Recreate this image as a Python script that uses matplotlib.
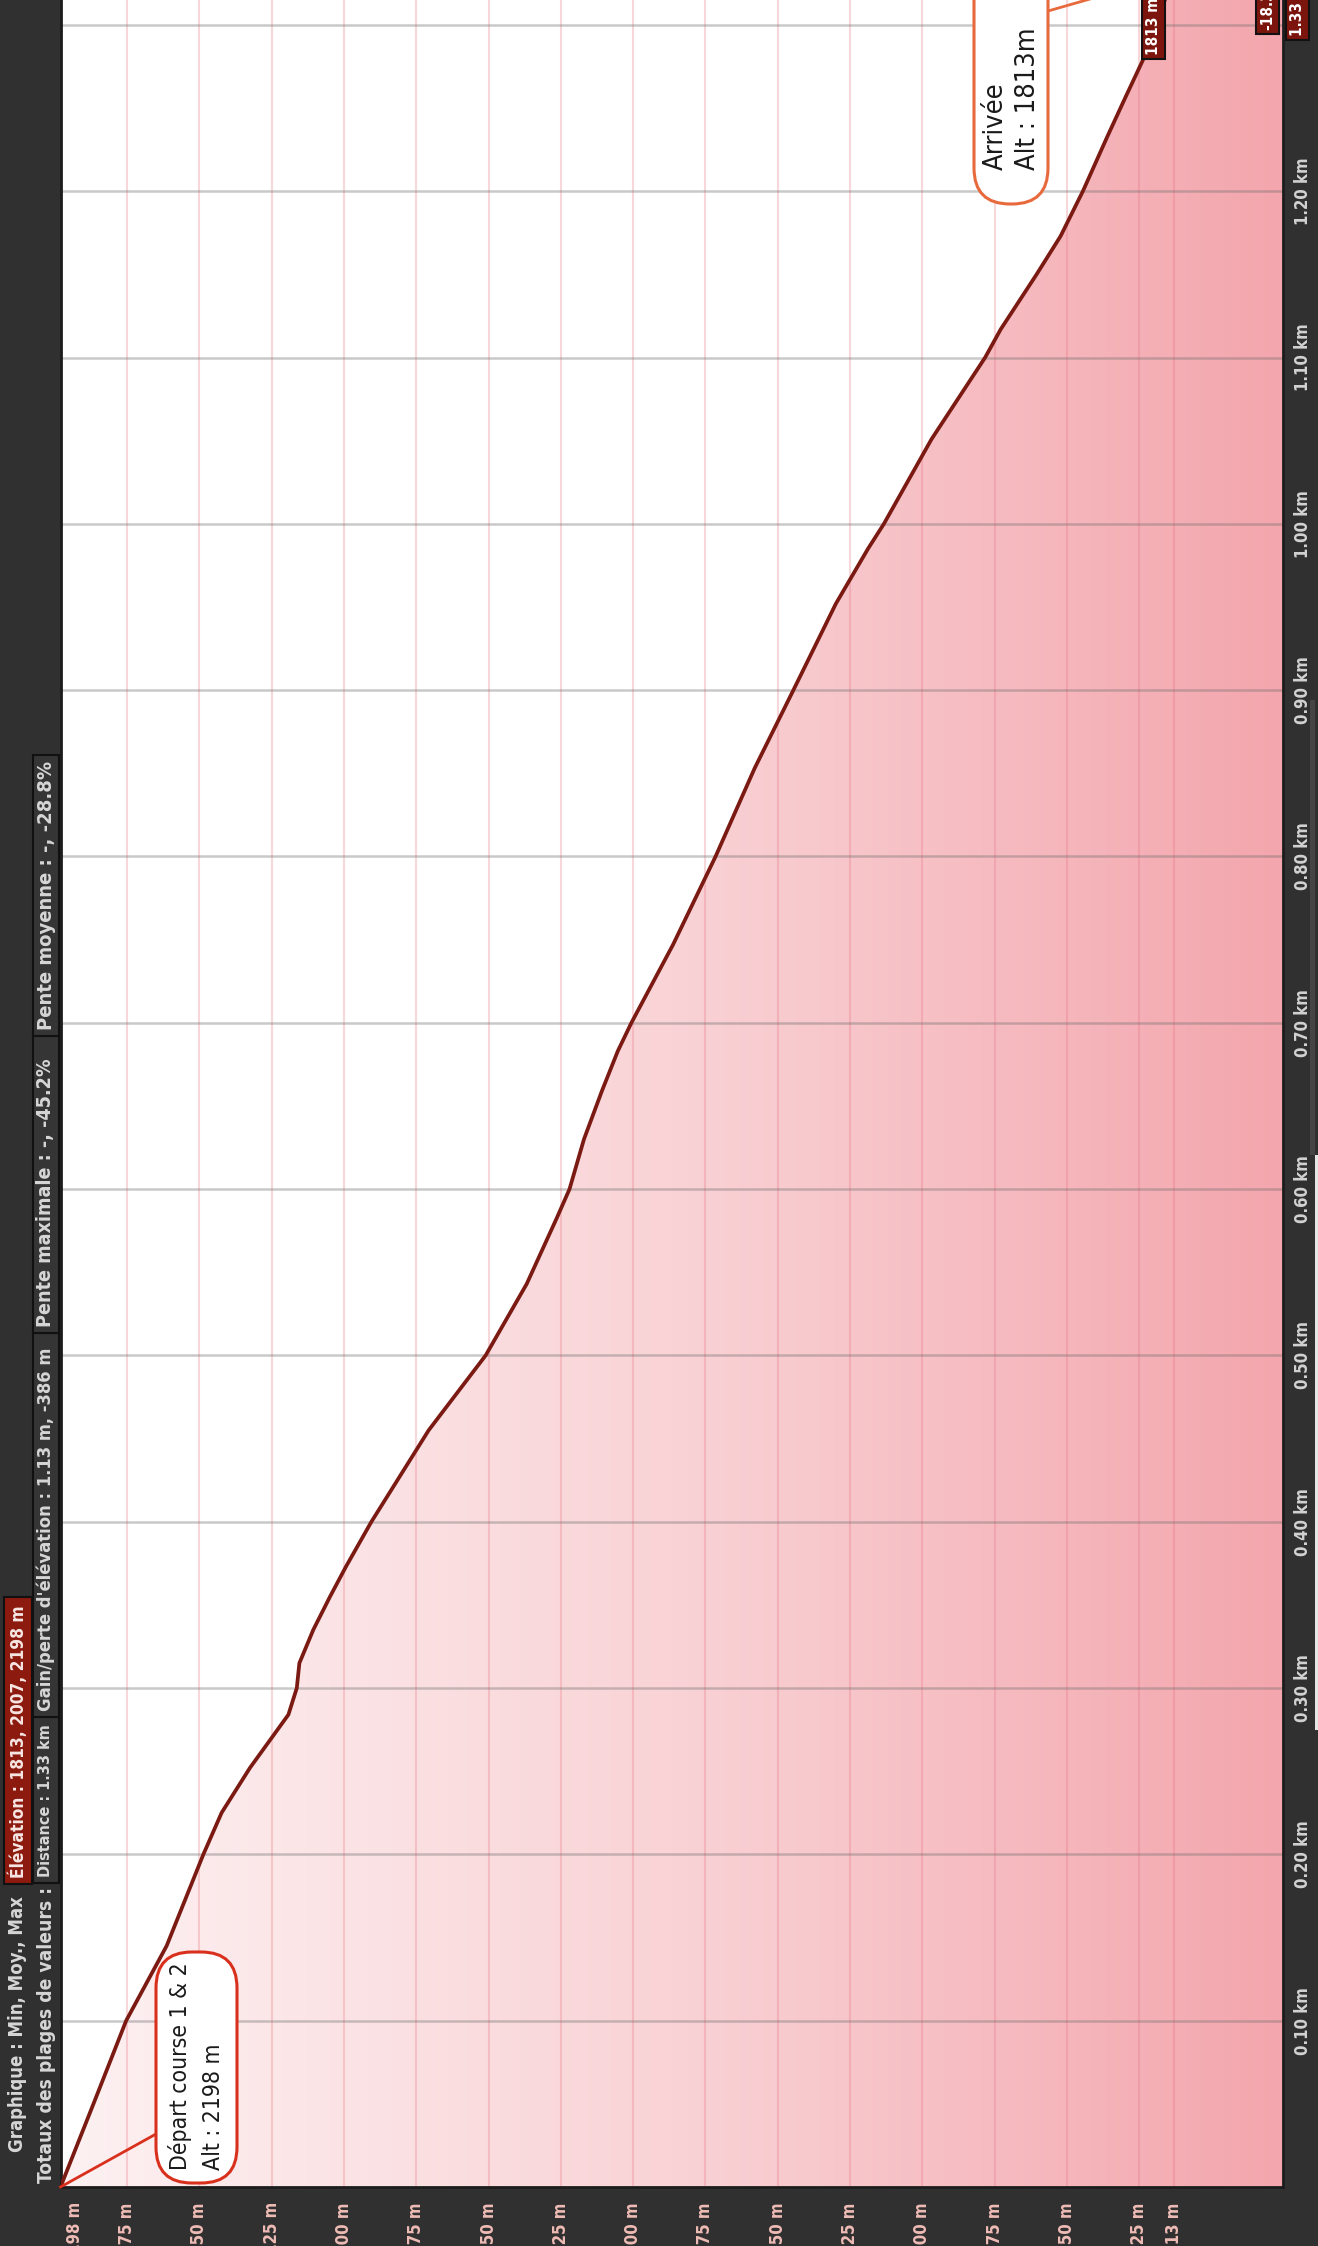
import os
import matplotlib
matplotlib.use("Agg")
import matplotlib.pyplot as plt
import matplotlib.font_manager as fm
from matplotlib.colors import LinearSegmentedColormap
from matplotlib.patches import Rectangle, FancyBboxPatch, Polygon
from matplotlib.transforms import IdentityTransform, offset_copy
from matplotlib.lines import Line2D
import numpy as np

W, H = 1318, 2246

# profile: distance (km) / elevation (m)
dist_km = [0.0, 0.05, 0.10, 0.145, 0.20, 0.225, 0.252, 0.284, 0.30, 0.315, 0.335,
           0.355, 0.373, 0.40, 0.455, 0.50, 0.543, 0.583, 0.60, 0.63, 0.659, 0.683,
           0.70, 0.747, 0.80, 0.853, 0.90, 0.952, 0.985, 1.00, 1.051, 1.10, 1.117,
           1.150, 1.173, 1.20, 1.233, 1.256, 1.279, 1.33]
elev_m = [2198, 2186.6, 2175.3, 2161.3, 2148.6, 2142.3, 2132.5, 2119.2, 2116.3, 2115.4,
          2110.6, 2104.8, 2099.3, 2090.5, 2070.7, 2051.0, 2036.8, 2026.3, 2022.0, 2017.0,
          2010.8, 2005.3, 2000.6, 1986.2, 1971.5, 1958.0, 1944.6, 1929.9, 1918.8, 1913.3,
          1896.8, 1878.3, 1872.9, 1860.5, 1852.2, 1844.5, 1836.0, 1829.9, 1823.7, 1813.0]

elev_ticks = [2198, 2175, 2150, 2125, 2100, 2075, 2050, 2025, 2000, 1975, 1950,
              1925, 1900, 1875, 1850, 1825, 1813]
dist_ticks = [0.10, 0.20, 0.30, 0.40, 0.50, 0.60, 0.70, 0.80, 0.90, 1.00, 1.10, 1.20]
dist_grid = [0.1, 0.2, 0.3, 0.4, 0.5, 0.6, 0.7, 0.8, 0.9, 1.0, 1.1, 1.2, 1.3]
elev_axis_low = 1775.3

header_1 = "Graphique : Min, Moy., Max"
header_2 = "Totaux des plages de valeurs :"
elev_summary = "Élévation : 1813, 2007, 2198 m"
totals = ["Distance : 1.33 km", "Gain/perte d'élévation : 1.13 m, -386 m",
          "Pente maximale : -, -45.2%", "Pente moyenne : -, -28.8%"]
start_label = "Départ course 1 & 2\nAlt : 2198 m"
end_label = "Arrivée\nAlt : 1813m"
cursor_tags = ["1813 m", "-18.3%", "1.33 km"]

# look for a narrow face, else Roboto
files = {os.path.basename(f.fname): f.fname for f in fm.fontManager.ttflist}


def pick(cands, weight):
    for c in cands:
        if c in files:
            return fm.FontProperties(fname=files[c])
    return fm.FontProperties(family="Roboto", weight=weight)


NB = pick(["LiberationSansNarrow-Bold.ttf", "DejaVuSansCondensed-Bold.ttf"], "bold")
NR = pick(["LiberationSansNarrow-Regular.ttf", "DejaVuSansCondensed.ttf"], "normal")

DARK = "#303030"
fig = plt.figure(figsize=(W / 100, H / 100), dpi=100, facecolor=DARK)
renderer = fig.canvas.get_renderer()


def fx(x):
    return x / W


def fy(y):
    return 1 - y / H


def fit(t, length):
    # scale a rotated text so that it runs over `length` pixels
    h = t.get_window_extent(renderer).height
    t.set_fontsize(t.get_fontsize() * length / h)


# plot area (the whole chart is turned a quarter turn)
left, right, bottom, top = 60.5, 1283, 2187, -25
ax = fig.add_axes([fx(left), fy(bottom), (right - left) / W, (bottom - top) / H])
ax.set_facecolor("white")
ax.set_xlim(2198, elev_axis_low)
ax.set_ylim(0, 1.33)

# gradient fill under the profile
grad = LinearSegmentedColormap.from_list("g", ["#fdf1f2", "#f9d3d6", "#f3a6ad"])
im = ax.imshow(np.linspace(0, 1, 256).reshape(1, -1), cmap=grad, aspect="auto",
               extent=[2198, elev_axis_low, 0, 1.33], zorder=0, interpolation="bilinear")
poly = Polygon(np.column_stack([elev_m + [elev_axis_low, elev_axis_low],
                                dist_km + [1.33, 0]]),
               facecolor="none", edgecolor="none")
ax.add_patch(poly)
im.set_clip_path(poly)

for e in elev_ticks:
    ax.axvline(e, color="#e8707f", alpha=0.28, lw=1.5, zorder=1)
for d in dist_grid:
    ax.axhline(d, color="#6a6a6a", alpha=0.36, lw=1.8, zorder=1)

ax.plot(elev_m, dist_km, color="#7a1a12", lw=2.7, solid_capstyle="round", zorder=3)

for s in ax.spines.values():
    s.set_color("#1c1c1c")
    s.set_linewidth(2)

ax.set_xticks(elev_ticks)
ax.set_xticklabels([f"{e} m" for e in elev_ticks], rotation=90,
                   fontproperties=NB, fontsize=12, color="#efbcb6")
ax.tick_params(axis="x", length=0, pad=11)
first = ax.get_xticklabels()[0]
first.set_horizontalalignment("left")
first.set_transform(offset_copy(first.get_transform(), fig=fig, x=6, units="dots"))

ax.yaxis.tick_right()
ax.set_yticks(dist_ticks)
ax.set_yticklabels([f"{d:.2f} km" for d in dist_ticks], rotation=90, va="center",
                   fontproperties=NB, fontsize=12, color="#d2d2d2")
ax.tick_params(axis="y", length=0, pad=8)

# left header columns
pix = IdentityTransform()
fig.add_artist(Rectangle((4, H - 1884), 28, 1884 - 1597, transform=pix,
                         facecolor="#8c1a0e", edgecolor="#111111", lw=1.5))
t = fig.text(fx(18), fy(2152), header_1, rotation=90, ha="center", va="bottom",
             fontproperties=NB, fontsize=12, color="#d6d6d6")
fit(t, 256)
t = fig.text(fx(18), fy(1878), elev_summary, rotation=90, ha="center", va="bottom",
             fontproperties=NB, fontsize=12, color="#f6e6e4")
fit(t, 272)
t = fig.text(fx(46), fy(2183), header_2, rotation=90, ha="center", va="bottom",
             fontproperties=NB, fontsize=12, color="#d6d6d6")
fit(t, 293)
col_size = t.get_fontsize()

box_edges = [1883, 1717, 1333, 1036, 755]
text_len = [None, 365, 270, 272]
for i, txt in enumerate(totals):
    y0, y1 = box_edges[i], box_edges[i + 1]
    fig.add_artist(Rectangle((33, H - y0), 26, y0 - y1, transform=pix,
                             facecolor="#353535", edgecolor="#111111", lw=1.5))
    t = fig.text(fx(46), fy(y0 - 6), txt, rotation=90, ha="center", va="bottom",
                 fontproperties=NB, fontsize=col_size, color="#d6d6d6")
    if text_len[i]:
        fit(t, text_len[i])
    elif t.get_window_extent(renderer).height > y0 - y1 - 12:
        fit(t, y0 - y1 - 12)


# callout boxes
def callout(x0, y0, x1, y1, text, tx, ty, size, spacing, ec, anchor, tip):
    fig.add_artist(FancyBboxPatch((x0, H - y1), x1 - x0, y1 - y0, transform=pix,
                                  boxstyle="round,pad=0,rounding_size=36",
                                  facecolor="white", edgecolor=ec, lw=2.2, zorder=5))
    fig.text(fx(tx), fy(ty), text, rotation=90, ha="center", va="bottom",
             multialignment="left", fontproperties=NR, fontsize=size,
             linespacing=spacing, color="#1a1a1a", zorder=6)
    px, py = ax.transData.transform(anchor)
    fig.add_artist(Line2D([px, tip[0]], [py, H - tip[1]], transform=pix,
                          color=ec, lw=2, zorder=4))


callout(156, 1952, 237, 2183, start_label, 196.5, 2170, 16.5, 1.5, "#d8301c",
        (elev_m[0], dist_km[0]), (156, 2134))
callout(974, -60, 1048, 204, end_label, 1012, 170, 19.5, 1.3, "#e8693c",
        (elev_m[-1], dist_km[-1]), (1048, 11))

# cursor value tags at the top edge
for tag, xc, yb in zip(cursor_tags, [1153.5, 1267.5, 1297.5], [55, 30, 36]):
    fig.text(fx(xc), fy(yb), tag, rotation=90, ha="center", va="bottom",
             fontproperties=NB, fontsize=11, color="white", zorder=8,
             bbox=dict(boxstyle="square,pad=0.25", facecolor="#7b150d",
                       edgecolor="#111111", lw=1.5))

fig.add_artist(Rectangle((1310, H - 1155), 5, 1155 - 700, transform=pix,
                         facecolor="#454545", edgecolor="none"))
fig.add_artist(Rectangle((1315, H - 1730), 3, 1730 - 1155, transform=pix,
                         facecolor="#e6e6e6", edgecolor="none"))

fig.savefig("out.png", dpi=100, facecolor=DARK)
